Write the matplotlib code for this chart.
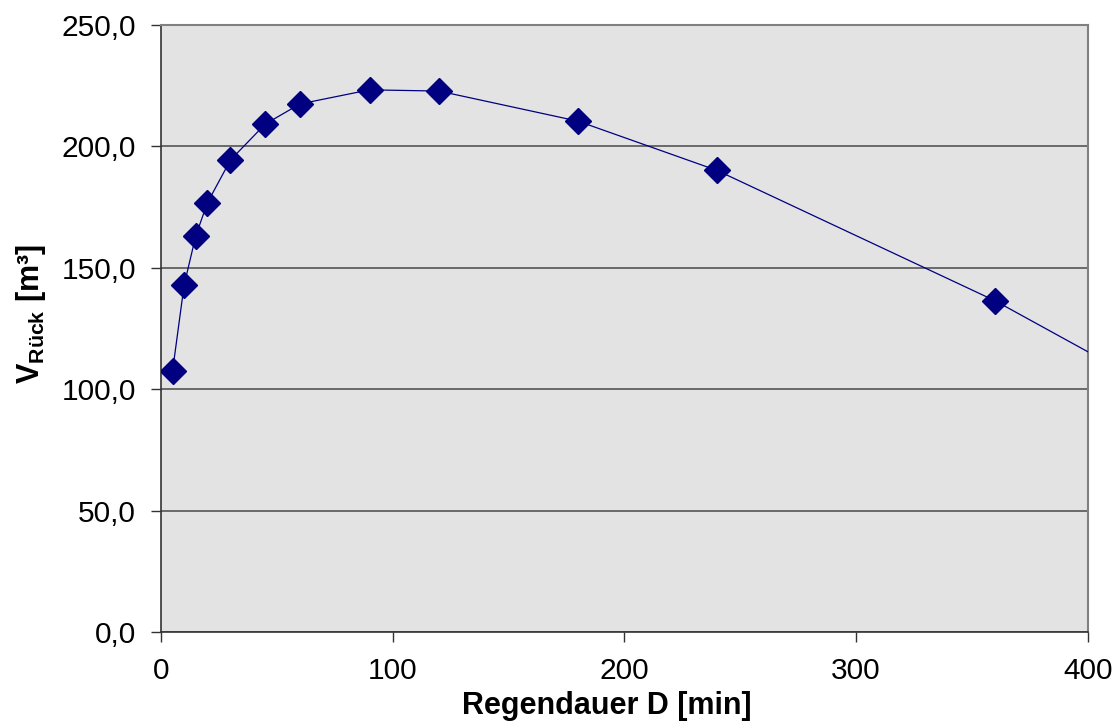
import matplotlib.pyplot as plt
from matplotlib.ticker import FuncFormatter, MultipleLocator

plt.rcParams['font.family'] = ['Liberation Sans', 'DejaVu Sans']
plt.rcParams['mathtext.fontset'] = 'custom'
plt.rcParams['mathtext.bf'] = 'Liberation Sans:bold'
plt.rcParams['mathtext.rm'] = 'Liberation Sans'

# Regendauer [min] und zugehoeriges Rueckhaltevolumen [m3]
dauer = [5, 10, 15, 20, 30, 45, 60, 90, 120, 180, 240, 360, 480]
volumen = [107.5, 142.9, 163.1, 176.7, 194.4, 209.2, 217.5, 223.3, 222.8,
           210.4, 190.1, 136.4, 73.5]

fig = plt.figure(figsize=(11.17, 7.21), dpi=100)
ax = fig.add_axes([0.1441, 0.1234, 0.8298, 0.8419])
ax.set_facecolor('#e3e3e3')

ax.plot(dauer, volumen, color='#000080', linewidth=0.9, marker='D',
        markersize=13, markerfacecolor='#000080', markeredgecolor='#000080',
        zorder=3)

ax.set_xlim(0, 400)
ax.set_ylim(0, 250)
ax.xaxis.set_major_locator(MultipleLocator(100))
ax.yaxis.set_major_locator(MultipleLocator(50))
ax.yaxis.set_major_formatter(FuncFormatter(lambda v, p: f'{v:.1f}'.replace('.', ',')))

ax.grid(axis='y', color='#555555', linewidth=1.2)
ax.set_axisbelow(True)
for side in ['left', 'bottom']:
    ax.spines[side].set_color('#333333')
    ax.spines[side].set_linewidth(1.2)
for side in ['top', 'right']:
    ax.spines[side].set_color('#808080')
    ax.spines[side].set_linewidth(1.5)

ax.tick_params(direction='out', length=7, width=1, color='#333333',
               labelsize=21.5, pad=11)

ax.set_xlabel('Regendauer D [min]', fontsize=22, fontweight='bold', labelpad=4.5)
ax.set_ylabel(r'V$_{\mathbf{Rück}}$ [m³]', fontsize=22, fontweight='bold', labelpad=10)
ax.xaxis.label.set_x(0.481)
ax.yaxis.label.set_y(0.524)

fig.savefig('out.png', dpi=100)
